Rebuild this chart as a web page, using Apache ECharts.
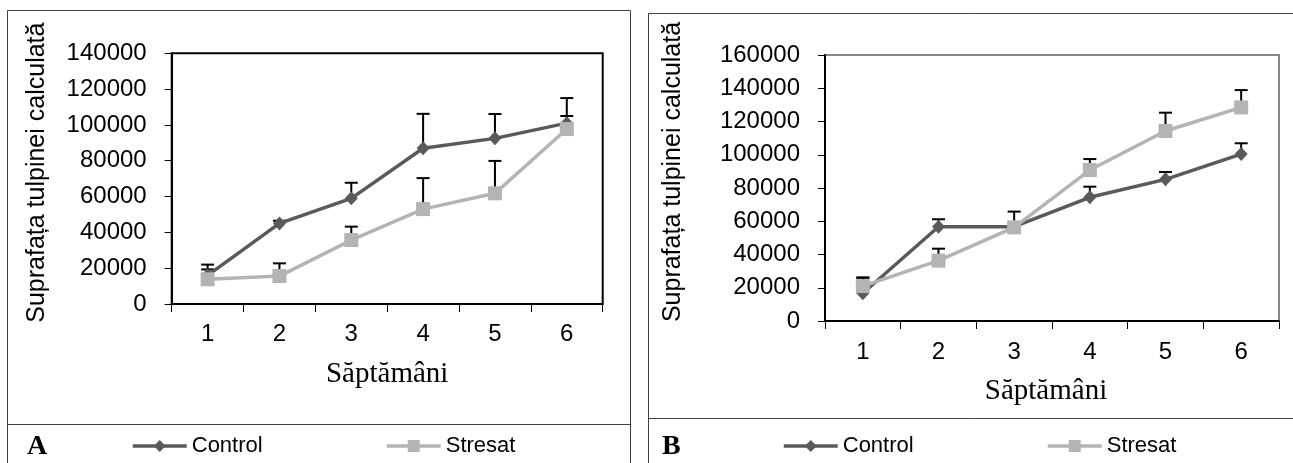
<!DOCTYPE html>
<html>
<head>
<meta charset="utf-8">
<script src="https://cdn.jsdelivr.net/npm/echarts@6/dist/echarts.min.js"></script>
<style>
  html, body { margin: 0; padding: 0; background: #fff; }
  #chart { width: 1293px; height: 463px; }
</style>
</head>
<body>
<div id="chart"></div>
<script>
// date
const weeks = ['1', '2', '3', '4', '5', '6']
const yTicksA = [0, 140000, 20000] // min, max, pas
const yTicksB = [0, 160000, 20000]
// panoul A
const controlA = [16000, 45000, 59000, 87000, 92500, 101000]
const controlAErr = [6000, 1500, 8700, 19200, 13600, 14000]
const stresatA = [13800, 15600, 35700, 53000, 61800, 97700]
const stresatAErr = [5500, 7100, 7500, 17300, 18100, 7300]
// panoul B
const controlB = [16700, 56700, 56700, 74400, 85200, 100400]
const controlBErr = [9500, 4500, 2000, 6400, 4400, 6500]
const stresatB = [21000, 36300, 56300, 90800, 114300, 128500]
const stresatBErr = [5000, 7200, 9500, 6600, 11000, 10400]

const SANS = 'Liberation Sans'
const SERIF = 'Liberation Serif'
const CONTROL_COLOR = '#5a5a5a'
const STRESAT_COLOR = '#b4b4b4'

// bara de eroare (doar in sus, cu capat)
const errorBarItem = (params, api) => {
  const base = api.coord([api.value(0), api.value(1)])
  const top = api.coord([api.value(0), api.value(1) + api.value(2)])
  const half = 6.5
  return {
    type: 'group',
    children: [{
      type: 'line',
      shape: { x1: base[0], y1: base[1], x2: top[0], y2: top[1] },
      style: { stroke: '#000', lineWidth: 2 }
    }, {
      type: 'line',
      shape: { x1: top[0] - half, y1: top[1], x2: top[0] + half, y2: top[1] },
      style: { stroke: '#000', lineWidth: 2 }
    }]
  }
}

const errData = (vals, errs) => vals.map((v, i) => [i, v, errs[i]])

const makeX = (idx, labelMargin, nameGap, namePad) => ({
  type: 'category',
  gridIndex: idx,
  data: weeks,
  boundaryGap: true,
  axisLine: { lineStyle: { color: '#000', width: 2 } },
  axisTick: { show: true, length: 8, lineStyle: { color: '#000', width: 1 } },
  axisLabel: { color: '#000', fontFamily: SANS, fontSize: 24, margin: labelMargin },
  name: 'Săptămâni',
  nameLocation: 'middle',
  nameGap: nameGap,
  nameTextStyle: { color: '#000', fontFamily: SERIF, fontSize: 29, padding: namePad },
  splitLine: { show: false }
})

const makeY = (idx, ticks, nameGap, namePad) => ({
  type: 'value',
  gridIndex: idx,
  min: ticks[0],
  max: ticks[1],
  interval: ticks[2],
  axisLine: { show: true, lineStyle: { color: '#000', width: 2 } },
  axisTick: { show: true, length: 7, lineStyle: { color: '#000', width: 1 } },
  axisLabel: {
    color: '#000',
    fontFamily: SANS,
    fontSize: 24,
    margin: 25,
    formatter: v => String(v) // fara separator de mii
  },
  splitLine: { show: false },
  name: 'Suprafața tulpinei calculată',
  nameLocation: 'middle',
  nameRotate: 90,
  nameGap: nameGap,
  nameTextStyle: { color: '#000', fontFamily: SANS, fontSize: 25, padding: namePad }
})

const lineSeries = (name, idx, data, color, symbol, size) => ({
  name: name,
  type: 'line',
  xAxisIndex: idx,
  yAxisIndex: idx,
  data: data,
  symbol: symbol,
  symbolSize: size,
  color: color,
  lineStyle: { color: color, width: 3.5 },
  itemStyle: { color: color },
  z: 3
})

const errSeries = (idx, vals, errs) => ({
  type: 'custom',
  xAxisIndex: idx,
  yAxisIndex: idx,
  data: errData(vals, errs),
  renderItem: errorBarItem,
  encode: { x: 0, y: 1 },
  silent: true,
  z: 2
})

const legendItem = (name, left) => ({
  data: [name],
  left: left,
  top: 435,
  padding: 0,
  itemWidth: 54,
  itemHeight: 15,
  itemGap: 0,
  selectedMode: false,
  lineStyle: { width: 3.5 },
  textStyle: { color: '#000', fontFamily: SANS, fontSize: 22 }
})

const option = {
  backgroundColor: '#ffffff',
  animation: false,
  grid: [
    { left: 171.7, top: 53.3, width: 431, height: 250.7, show: true, borderColor: '#000', borderWidth: 2, backgroundColor: 'transparent' },
    { left: 825, top: 55, width: 454, height: 266, show: true, borderColor: '#888', borderWidth: 2, backgroundColor: 'transparent' }
  ],
  xAxis: [makeX(0, 18, 56, 0), makeX(1, 19, 56, [0, 12, 0, 0])],
  yAxis: [makeY(0, yTicksA, 122, [0, 0, 0, 12]), makeY(1, yTicksB, 139, [0, 0, 0, 32])],
  legend: [
    legendItem('Control', 131),
    legendItem('Stresat', 385),
    legendItem('Control', 782),
    legendItem('Stresat', 1046)
  ],
  graphic: [
    // chenarele panourilor
    { type: 'rect', shape: { x: 7.5, y: 10.5, width: 623, height: 470 }, style: { fill: 'none', stroke: '#404040', lineWidth: 1 }, z: 0 },
    { type: 'line', shape: { x1: 7.5, y1: 424.5, x2: 630.5, y2: 424.5 }, style: { stroke: '#404040', lineWidth: 1 } },
    { type: 'rect', shape: { x: 648.5, y: 13.5, width: 700, height: 470 }, style: { fill: 'none', stroke: '#404040', lineWidth: 1 }, z: 0 },
    { type: 'line', shape: { x1: 648.5, y1: 418.5, x2: 1293, y2: 418.5 }, style: { stroke: '#404040', lineWidth: 1 } },
    { type: 'text', left: 27, top: 433, style: { text: 'A', fill: '#000', font: 'bold 28px "Liberation Serif"' } },
    { type: 'text', left: 662, top: 433, style: { text: 'B', fill: '#000', font: 'bold 28px "Liberation Serif"' } }
  ],
  series: [
    errSeries(0, controlA, controlAErr),
    errSeries(0, stresatA, stresatAErr),
    lineSeries('Control', 0, controlA, CONTROL_COLOR, 'diamond', [13, 14]),
    lineSeries('Stresat', 0, stresatA, STRESAT_COLOR, 'rect', 14),
    errSeries(1, controlB, controlBErr),
    errSeries(1, stresatB, stresatBErr),
    lineSeries('Control', 1, controlB, CONTROL_COLOR, 'diamond', [13, 14]),
    lineSeries('Stresat', 1, stresatB, STRESAT_COLOR, 'rect', 14)
  ]
}

const chart = echarts.init(document.getElementById('chart'), null, { renderer: 'canvas' })
chart.setOption(option)
</script>
</body>
</html>
